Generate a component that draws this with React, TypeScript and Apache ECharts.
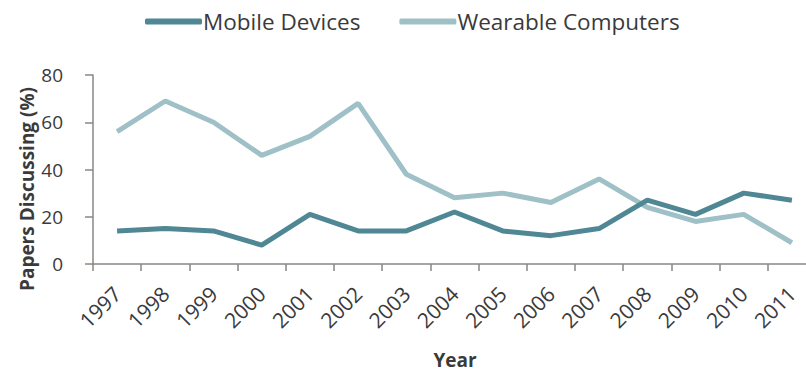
import React, { useEffect, useRef } from "react";
import * as echarts from "echarts";

const years = ["1997","1998","1999","2000","2001","2002","2003","2004","2005","2006","2007","2008","2009","2010","2011"];
const mobileDevices = [14, 15, 14, 8, 21, 14, 14, 22, 14, 12, 15, 27, 21, 30, 27];
const wearableComputers = [56, 69, 60, 46, 54, 68, 38, 28, 30, 26, 36, 24, 18, 21, 9];
const yTicks = { min: 0, max: 80, interval: 20 };

const FONT = "'Open Sans', 'Noto Sans', sans-serif";
const DARK = "#4f8794";
const LIGHT = "#9fc0c6";
const AXIS = "#8a8683";
const TEXT = "#3a3a3a";

export default function App() {
  const ref = useRef<HTMLDivElement>(null);
  useEffect(() => {
    document.body.style.margin = "0";
    document.documentElement.style.overflow = "hidden";
    document.body.style.overflow = "hidden";
    if (!ref.current) return;
    const chart = echarts.init(ref.current, null, { renderer: "svg" });
    chart.setOption({
      animation: false,
      backgroundColor: "#ffffff",
      legend: {
        top: 10,
        left: 145,
        padding: 0,
        itemWidth: 57,
        itemHeight: 6,
        itemGap: 39,
        icon: "roundRect",
        textStyle: { fontFamily: FONT, fontSize: 22.5, color: TEXT, padding: [0, 0, 0, -4] },
        data: [
          { name: "Mobile Devices", itemStyle: { color: DARK } },
          { name: "Wearable Computers", itemStyle: { color: LIGHT } },
        ],
      },
      grid: { left: 93, right: -10, top: 75, bottom: 108, containLabel: false, outerBoundsMode: "none" },
      xAxis: {
        type: "category",
        data: years,
        boundaryGap: true,
        axisLine: { lineStyle: { color: AXIS, width: 1.5 } },
        axisTick: { show: true, length: 7, lineStyle: { color: AXIS, width: 1.5 } },
        axisLabel: { rotate: 45, fontFamily: FONT, fontSize: 21, color: TEXT, margin: 26, interval: 0 },
      },
      yAxis: {
        type: "value",
        min: yTicks.min,
        max: yTicks.max,
        interval: yTicks.interval,
        splitLine: { show: false },
        axisLine: { show: true, lineStyle: { color: AXIS, width: 1.5 } },
        axisTick: { show: true, length: 8, lineStyle: { color: AXIS, width: 1.5 } },
        axisLabel: { fontFamily: FONT, fontSize: 19, color: TEXT, margin: 30 },
      },
      graphic: [
        {
          type: "text",
          x: 27,
          y: 189,
          rotation: Math.PI / 2,
          style: {
            text: "Papers Discussing (%)",
            fontFamily: FONT,
            fontSize: 19,
            fontWeight: "bold",
            fill: TEXT,
            align: "center",
            verticalAlign: "middle",
          },
        },
        {
          type: "text",
          x: 455,
          y: 360,
          style: {
            text: "Year",
            fontFamily: FONT,
            fontSize: 19,
            lineHeight: 20,
            fontWeight: "bold",
            fill: TEXT,
            align: "center",
            verticalAlign: "middle",
          },
        },
      ],
      series: [
        {
          name: "Mobile Devices",
          type: "line",
          data: mobileDevices,
          showSymbol: false,
          symbol: "none",
          lineStyle: { color: DARK, width: 5 },
          itemStyle: { color: DARK },
          z: 3,
        },
        {
          name: "Wearable Computers",
          type: "line",
          data: wearableComputers,
          showSymbol: false,
          symbol: "none",
          lineStyle: { color: LIGHT, width: 5 },
          itemStyle: { color: LIGHT },
          z: 2,
        },
      ],
    });
    return () => chart.dispose();
  }, []);
  return (
    <div
      ref={ref}
      style={{ position: "absolute", left: 0, top: 0, width: 806, height: 372, overflow: "hidden" }}
    />
  );
}
